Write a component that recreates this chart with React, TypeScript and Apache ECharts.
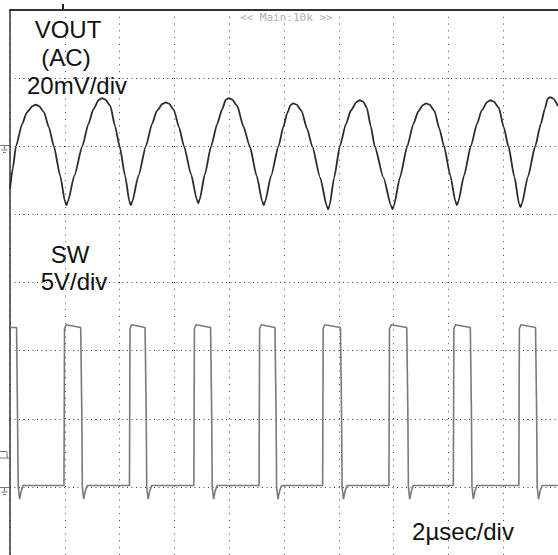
import React, { useEffect, useRef } from "react";
import * as echarts from "echarts";

// time in µs, VOUT (AC) in mV
const voutTimeMv: [number, number][] = [
  [0.0, -12.5], [0.1, -6.5], [0.22, 0], [0.44, 6.5], [0.62, 10.0], [0.82, 11.8], [0.94, 12.2],
  [1.06, 11.8], [1.24, 10.0], [1.42, 5.5], [1.6, 0], [1.83, -8.6], [2.01, -16.3], [2.06, -17.3],
  [2.11, -16.3], [2.35, -8.6], [2.64, 0], [2.86, 6.5], [3.04, 10.8], [3.24, 13.6], [3.36, 14.1],
  [3.48, 13.7], [3.66, 11.9], [3.83, 6.0], [4.0, 0], [4.2, -8.6], [4.36, -16.3], [4.41, -17.3],
  [4.46, -16.3], [4.69, -8.6], [4.96, 0], [5.18, 6.5], [5.36, 10.4], [5.56, 12.4], [5.68, 12.9],
  [5.8, 12.5], [5.98, 10.7], [6.17, 5.5], [6.35, 0], [6.61, -8.3], [6.82, -15.7], [6.87, -16.7],
  [6.92, -15.7], [7.11, -8.3], [7.34, 0], [7.56, 6.5], [7.74, 10.8], [7.87, 13.6], [7.99, 14.1],
  [8.11, 13.7], [8.29, 11.9], [8.52, 5.8], [8.75, 0], [9.0, -8.6], [9.21, -16.3], [9.26, -17.3],
  [9.31, -16.3], [9.53, -8.6], [9.8, 0], [9.98, 5.8], [10.12, 9.8], [10.24, 12.1], [10.34, 12.6],
  [10.46, 12.2], [10.64, 10.4], [10.84, 5.2], [11.03, 0], [11.32, -9.2], [11.56, -17.5], [11.61, -18.5],
  [11.66, -17.5], [11.83, -9.2], [12.04, 0], [12.26, 6.5], [12.44, 10.5], [12.65, 13.0], [12.77, 13.5],
  [12.89, 13.1], [13.02, 11.3], [13.17, 5.8], [13.31, 0], [13.63, -9.2], [13.91, -17.5], [13.96, -18.5],
  [14.01, -17.5], [14.23, -9.2], [14.5, 0], [14.72, 6.5], [14.9, 10.2], [15.07, 12.1], [15.19, 12.6],
  [15.31, 12.2], [15.49, 10.4], [15.67, 5.2], [15.84, 0], [16.07, -8.6], [16.26, -16.3], [16.31, -17.3],
  [16.36, -16.3], [16.57, -8.6], [16.82, 0], [17.04, 6.5], [17.22, 10.6], [17.42, 13.0], [17.54, 13.5],
  [17.66, 13.1], [17.84, 11.3], [18.02, 5.6], [18.19, 0], [18.41, -9.0], [18.58, -16.9], [18.63, -17.9],
  [18.68, -16.9], [18.9, -9.0], [19.17, 0], [19.37, 6.5], [19.52, 11.0], [19.62, 13.9], [19.71, 14.4],
  [19.83, 14.0], [20.0, 11.8],
];

// time in µs, SW node in volts
const swTimeV: [number, number][] = [
  [0.0, 11.7], [0.24, 11.7], [0.27, 6.0], [0.3, 0.0], [0.35, -0.9], [0.41, -0.3], [0.47, 0.1], [1.97, 0.1],
  [1.99, 11.6], [2.05, 11.9], [2.58, 11.7], [2.62, 5.5], [2.64, 0.0], [2.69, -0.9], [2.75, -0.3], [2.82, 0.1], [4.36, 0.1],
  [4.38, 11.6], [4.44, 11.9], [4.93, 11.7], [4.97, 5.5], [4.99, 0.0], [5.04, -0.9], [5.1, -0.3], [5.17, 0.1], [6.71, 0.1],
  [6.73, 11.6], [6.79, 11.9], [7.32, 11.7], [7.36, 5.5], [7.38, 0.0], [7.43, -0.9], [7.49, -0.3], [7.56, 0.1], [9.09, 0.1],
  [9.11, 11.6], [9.17, 11.9], [9.67, 11.7], [9.71, 5.5], [9.73, 0.0], [9.78, -0.9], [9.84, -0.3], [9.91, 0.1], [11.41, 0.1],
  [11.43, 11.6], [11.49, 11.9], [12.06, 11.7], [12.1, 5.5], [12.12, 0.0], [12.17, -0.9], [12.23, -0.3], [12.3, 0.1], [13.83, 0.1],
  [13.85, 11.6], [13.91, 11.9], [14.48, 11.7], [14.52, 5.5], [14.54, 0.0], [14.59, -0.9], [14.65, -0.3], [14.72, 0.1], [16.18, 0.1],
  [16.2, 11.6], [16.26, 11.9], [16.8, 11.7], [16.84, 5.5], [16.86, 0.0], [16.91, -0.9], [16.97, -0.3], [17.04, 0.1], [18.57, 0.1],
  [18.59, 11.6], [18.65, 11.9], [19.18, 11.7], [19.22, 5.5], [19.24, 0.0], [19.29, -0.9], [19.35, -0.3], [19.42, 0.1], [20.0, 0.1],
];

const voutLabels = ["VOUT", "(AC)", "20mV/div"];
const swLabels = ["SW", "5V/div"];
const timeLabel = "2\u00b5sec/div";
const headerLabel = "<< Main:10k >>";

const VOUT_MV_PER_DIV = 20;
const VOUT_ZERO_DIV = 6;
const SW_V_PER_DIV = 5;
const SW_ZERO_DIV = 1;

export default function App() {
  const ref = useRef<HTMLDivElement>(null);
  useEffect(() => {
    if (!ref.current) return;
    const chart = echarts.init(ref.current, null, { renderer: "svg" });
    const font = "Liberation Sans, Arial, sans-serif";
    const txt = (s: string, x: number, y: number) => ({
      type: "text",
      x,
      y,
      z: 100,
      style: {
        text: s,
        fill: "#111",
        font: `24px ${font}`,
        textAlign: "center",
        textVerticalAlign: "middle",
      },
    });
    const ground = (y: number) => ({
      type: "group",
      z: 100,
      children: [
        { type: "line", shape: { x1: 0, y1: y, x2: 9, y2: y }, style: { stroke: "#777", lineWidth: 1 } },
        { type: "line", shape: { x1: 4.5, y1: y, x2: 4.5, y2: y + 4 }, style: { stroke: "#777", lineWidth: 1 } },
        { type: "line", shape: { x1: 1.5, y1: y + 4.5, x2: 7.5, y2: y + 4.5 }, style: { stroke: "#777", lineWidth: 1 } },
        { type: "line", shape: { x1: 3, y1: y + 7, x2: 6, y2: y + 7 }, style: { stroke: "#777", lineWidth: 1 } },
      ],
    });
    chart.setOption({
      animation: false,
      backgroundColor: "#fff",
      grid: { left: 10, top: 10, width: 552, height: 545 },
      xAxis: {
        type: "value",
        position: "top",
        min: 0,
        max: 20,
        interval: 2,
        axisLabel: { show: false },
        axisTick: { show: false },
        axisLine: { show: true, onZero: false, lineStyle: { color: "#333", width: 2 } },
        splitLine: { show: true, lineStyle: { color: "#444", width: 1, type: [1, 5.8] } },
      },
      yAxis: {
        type: "value",
        min: 0,
        max: 8,
        interval: 1,
        axisLabel: { show: false },
        axisTick: { show: false },
        axisLine: { show: true, onZero: false, lineStyle: { color: "#333", width: 1.5 } },
        splitLine: { show: true, lineStyle: { color: "#444", width: 1, type: [1, 3.5] } },
      },
      series: [
        {
          type: "line",
          data: swTimeV.map(([t, v]) => [t, SW_ZERO_DIV + v / SW_V_PER_DIV]),
          showSymbol: false,
          lineStyle: { color: "#7a7a7a", width: 1.6 },
          z: 3,
        },
        {
          type: "line",
          data: voutTimeMv.map(([t, mv]) => [t, VOUT_ZERO_DIV + mv / VOUT_MV_PER_DIV]),
          showSymbol: false,
          smooth: 0.2,
          smoothMonotone: "x",
          lineStyle: { color: "#2b2b2b", width: 1.8 },
          z: 4,
        },
      ],
      graphic: [
        txt(voutLabels[0], 68, 29),
        txt(voutLabels[1], 66, 57),
        txt(voutLabels[2], 77, 85),
        txt(swLabels[0], 70, 254),
        txt(swLabels[1], 74, 281),
        txt(timeLabel, 463, 531),
        {
          type: "text",
          x: 240,
          y: 17,
          z: 100,
          style: {
            text: headerLabel,
            fill: "#b0b0b0",
            font: "11px DejaVu Sans Mono, monospace",
            textAlign: "left",
            textVerticalAlign: "middle",
          },
        },
        { type: "line", z: 100, shape: { x1: 63, y1: 4, x2: 63, y2: 10 }, style: { stroke: "#222", lineWidth: 2 } },
        ground(145.5),
        ground(487.5),
        {
          type: "polyline",
          z: 100,
          shape: { points: [[0, 451.5], [7, 451.5], [7, 457], [10, 459]] },
          style: { stroke: "#777", lineWidth: 1, fill: "none" },
        },
        { type: "line", z: 100, shape: { x1: 0, y1: 458, x2: 8, y2: 458 }, style: { stroke: "#777", lineWidth: 1 } },
      ],
    });
    return () => chart.dispose();
  }, []);
  return (
    <div
      ref={ref}
      style={{ position: "absolute", left: 0, top: 0, width: 558, height: 555, background: "#fff" }}
    />
  );
}
